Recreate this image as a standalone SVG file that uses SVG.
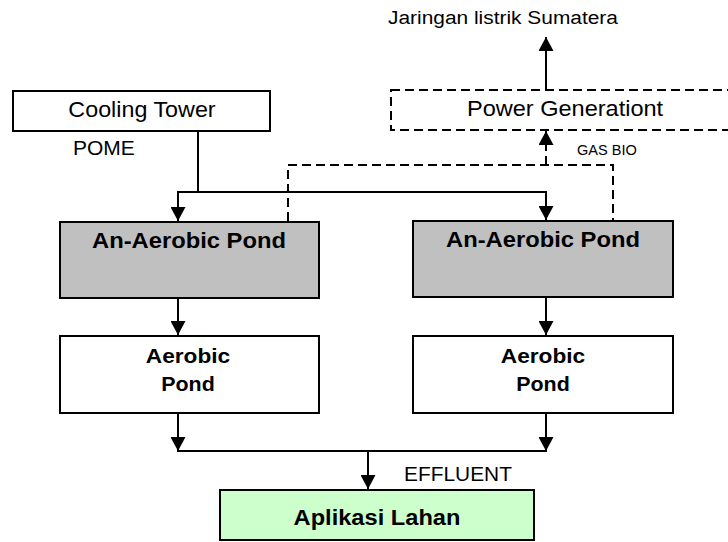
<svg xmlns="http://www.w3.org/2000/svg" width="728" height="542" viewBox="0 0 728 542">
<style>
.box{stroke:#000;stroke-width:2}
.dash{fill:none;stroke:#000;stroke-width:2;stroke-dasharray:9,5}
.ln{fill:none;stroke:#000;stroke-width:2}
text{font-family:"Liberation Sans",Arial,sans-serif;fill:#000}
.b{font-weight:bold}
.m{text-anchor:middle}
</style>
<defs>
<marker id="ah" viewBox="0 0 14 15" refX="14" refY="7.5" markerWidth="14" markerHeight="15" markerUnits="userSpaceOnUse" orient="auto">
<path d="M0,0 L14,7.5 L0,15 Z" fill="#000"/>
</marker>
</defs>
<rect width="728" height="542" fill="#fff"/>
<g id="connectors">
<line class="ln" x1="198" y1="131" x2="198" y2="192"/>
<polyline class="ln" points="178,221 178,192 546,192 546,220" marker-end="url(#ah)"/>
<line class="ln" x1="178" y1="192" x2="178" y2="221" marker-end="url(#ah)"/>
<line class="ln" x1="178" y1="298" x2="178" y2="335" marker-end="url(#ah)"/>
<line class="ln" x1="546" y1="297" x2="546" y2="335" marker-end="url(#ah)"/>
<line class="ln" x1="178" y1="413" x2="178" y2="451" marker-end="url(#ah)"/>
<line class="ln" x1="546" y1="413" x2="546" y2="451" marker-end="url(#ah)"/>
<line class="ln" x1="177" y1="451" x2="547" y2="451"/>
<line class="ln" x1="368" y1="451" x2="368" y2="489" marker-end="url(#ah)"/>
<polyline class="dash" points="288,221 288,165 613,165 613,220"/>
<line class="dash" x1="546" y1="165" x2="546" y2="143"/>
<line class="ln" x1="546" y1="145" x2="546" y2="131" marker-end="url(#ah)"/>
<line class="ln" x1="546" y1="90" x2="546" y2="37" marker-end="url(#ah)"/>
</g>
<g id="label-jaringan"><text transform="translate(388,24) scale(1.1,1)" font-size="19">Jaringan listrik Sumatera</text></g>
<g id="cooling-tower">
<rect class="box" x="13" y="91" width="257" height="40" fill="#fff"/>
<text class="m" transform="translate(142,117) scale(1.06,1)" font-size="22">Cooling Tower</text>
</g>
<g id="label-pome"><text x="73" y="155" font-size="21">POME</text></g>
<g id="power-generation">
<rect class="dash" x="391" y="90" width="360" height="40"/>
<text transform="translate(467,116) scale(1.07,1)" font-size="22">Power Generationt</text>
</g>
<g id="label-gasbio"><text transform="translate(577,155) scale(0.97,1)" font-size="15">GAS BIO</text></g>
<g id="anaerobic-left">
<rect class="box" x="60" y="222" width="259" height="76" fill="#C0C0C0"/>
<text class="b m" transform="translate(189,248) scale(1.08,1)" font-size="22">An-Aerobic Pond</text>
</g>
<g id="anaerobic-right">
<rect class="box" x="413" y="221" width="260" height="76" fill="#C0C0C0"/>
<text class="b m" transform="translate(543,247) scale(1.08,1)" font-size="22">An-Aerobic Pond</text>
</g>
<g id="aerobic-left">
<rect class="box" x="60" y="336" width="259" height="77" fill="#fff"/>
<text class="b m" transform="translate(188,363) scale(1.08,1)" font-size="21">Aerobic</text>
<text class="b m" transform="translate(188,391) scale(1.02,1)" font-size="21">Pond</text>
</g>
<g id="aerobic-right">
<rect class="box" x="413" y="336" width="260" height="77" fill="#fff"/>
<text class="b m" transform="translate(543,363) scale(1.08,1)" font-size="21">Aerobic</text>
<text class="b m" transform="translate(543,391) scale(1.02,1)" font-size="21">Pond</text>
</g>
<g id="label-effluent"><text transform="translate(404,481) scale(1.045,1)" font-size="20">EFFLUENT</text></g>
<g id="aplikasi-lahan">
<rect class="box" x="220" y="490" width="314" height="50" fill="#CCFFCC"/>
<text class="b m" transform="translate(377,525) scale(1.075,1)" font-size="22">Aplikasi Lahan</text>
</g>
</svg>
